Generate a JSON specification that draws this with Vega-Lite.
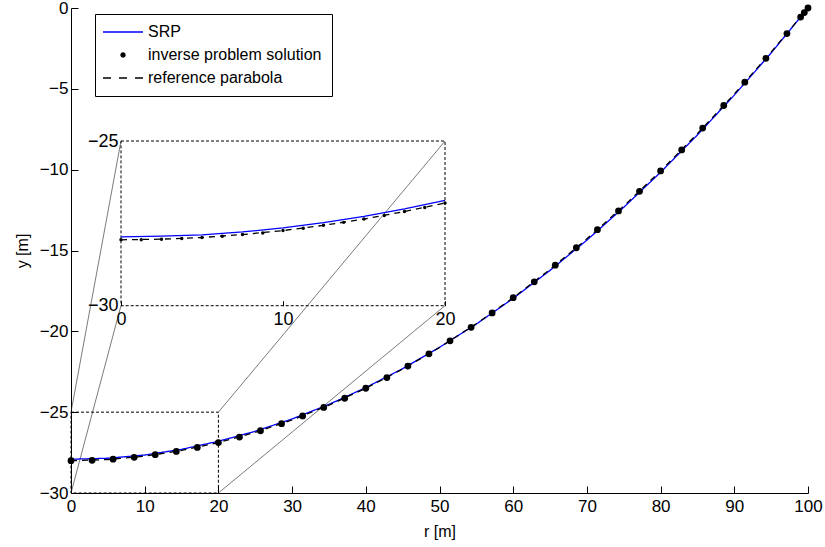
{
  "$schema": "https://vega.github.io/schema/vega-lite/v6.json",
  "autosize": {"type": "none"},
  "padding": {"left": 71, "top": 8, "right": 17, "bottom": 54},
  "width": 737,
  "height": 485,
  "background": "white",
  "config": {
    "font": "Liberation Sans",
    "view": {"stroke": null},
    "axis": {
      "labelFont": "Liberation Sans",
      "labelFontSize": 17,
      "labelColor": "black",
      "titleFont": "Liberation Sans",
      "titleFontSize": 16,
      "titleFontWeight": "normal",
      "titleColor": "black",
      "domainColor": "black",
      "tickColor": "black",
      "grid": false,
      "labelFlush": false,
      "labelOverlap": false,
      "format": "d"
    }
  },
  "datasets": {
    "lines": [
      {"series": "SRP", "r": 0, "y": -27.91}, {"series": "SRP", "r": 5, "y": -27.85}, {"series": "SRP", "r": 10, "y": -27.65},
      {"series": "SRP", "r": 15, "y": -27.30}, {"series": "SRP", "r": 20, "y": -26.80}, {"series": "SRP", "r": 25, "y": -26.18},
      {"series": "SRP", "r": 30, "y": -25.42}, {"series": "SRP", "r": 35, "y": -24.52}, {"series": "SRP", "r": 40, "y": -23.48},
      {"series": "SRP", "r": 45, "y": -22.31}, {"series": "SRP", "r": 50, "y": -20.99}, {"series": "SRP", "r": 55, "y": -19.55},
      {"series": "SRP", "r": 60, "y": -17.96}, {"series": "SRP", "r": 65, "y": -16.23}, {"series": "SRP", "r": 70, "y": -14.36},
      {"series": "SRP", "r": 75, "y": -12.33}, {"series": "SRP", "r": 80, "y": -10.16}, {"series": "SRP", "r": 85, "y": -7.85},
      {"series": "SRP", "r": 90, "y": -5.39}, {"series": "SRP", "r": 95, "y": -2.78}, {"series": "SRP", "r": 100, "y": 0},
      {"series": "reference parabola", "r": 0, "y": -28.00}, {"series": "reference parabola", "r": 5, "y": -27.93},
      {"series": "reference parabola", "r": 10, "y": -27.72}, {"series": "reference parabola", "r": 15, "y": -27.37},
      {"series": "reference parabola", "r": 20, "y": -26.88}, {"series": "reference parabola", "r": 25, "y": -26.25},
      {"series": "reference parabola", "r": 30, "y": -25.48}, {"series": "reference parabola", "r": 35, "y": -24.57},
      {"series": "reference parabola", "r": 40, "y": -23.52}, {"series": "reference parabola", "r": 45, "y": -22.33},
      {"series": "reference parabola", "r": 50, "y": -21.00}, {"series": "reference parabola", "r": 55, "y": -19.53},
      {"series": "reference parabola", "r": 60, "y": -17.92}, {"series": "reference parabola", "r": 65, "y": -16.17},
      {"series": "reference parabola", "r": 70, "y": -14.28}, {"series": "reference parabola", "r": 75, "y": -12.25},
      {"series": "reference parabola", "r": 80, "y": -10.08}, {"series": "reference parabola", "r": 85, "y": -7.77},
      {"series": "reference parabola", "r": 90, "y": -5.32}, {"series": "reference parabola", "r": 95, "y": -2.73},
      {"series": "reference parabola", "r": 100, "y": 0}
    ],
    "dots": [
      {"series": "inverse problem solution", "r": 0, "y": -28.00},
      {"series": "inverse problem solution", "r": 2.86, "y": -27.98},
      {"series": "inverse problem solution", "r": 5.71, "y": -27.91},
      {"series": "inverse problem solution", "r": 8.57, "y": -27.79},
      {"series": "inverse problem solution", "r": 11.43, "y": -27.63},
      {"series": "inverse problem solution", "r": 14.29, "y": -27.43},
      {"series": "inverse problem solution", "r": 17.14, "y": -27.18},
      {"series": "inverse problem solution", "r": 20.00, "y": -26.88},
      {"series": "inverse problem solution", "r": 22.86, "y": -26.54},
      {"series": "inverse problem solution", "r": 25.71, "y": -26.15},
      {"series": "inverse problem solution", "r": 28.57, "y": -25.71},
      {"series": "inverse problem solution", "r": 31.43, "y": -25.23},
      {"series": "inverse problem solution", "r": 34.29, "y": -24.71},
      {"series": "inverse problem solution", "r": 37.14, "y": -24.14},
      {"series": "inverse problem solution", "r": 40.00, "y": -23.52},
      {"series": "inverse problem solution", "r": 42.86, "y": -22.86},
      {"series": "inverse problem solution", "r": 45.71, "y": -22.15},
      {"series": "inverse problem solution", "r": 48.57, "y": -21.39},
      {"series": "inverse problem solution", "r": 51.43, "y": -20.59},
      {"series": "inverse problem solution", "r": 54.29, "y": -19.75},
      {"series": "inverse problem solution", "r": 57.14, "y": -18.86},
      {"series": "inverse problem solution", "r": 60.00, "y": -17.92},
      {"series": "inverse problem solution", "r": 62.86, "y": -16.94},
      {"series": "inverse problem solution", "r": 65.71, "y": -15.91},
      {"series": "inverse problem solution", "r": 68.57, "y": -14.83},
      {"series": "inverse problem solution", "r": 71.43, "y": -13.71},
      {"series": "inverse problem solution", "r": 74.29, "y": -12.55},
      {"series": "inverse problem solution", "r": 77.14, "y": -11.34},
      {"series": "inverse problem solution", "r": 80.00, "y": -10.08},
      {"series": "inverse problem solution", "r": 82.86, "y": -8.78},
      {"series": "inverse problem solution", "r": 85.71, "y": -7.43},
      {"series": "inverse problem solution", "r": 88.57, "y": -6.03},
      {"series": "inverse problem solution", "r": 91.43, "y": -4.59},
      {"series": "inverse problem solution", "r": 94.29, "y": -3.11},
      {"series": "inverse problem solution", "r": 97.14, "y": -1.58},
      {"series": "inverse problem solution", "r": 99.0, "y": -0.56},
      {"series": "inverse problem solution", "r": 99.5, "y": -0.28},
      {"series": "inverse problem solution", "r": 100, "y": 0}
    ],
    "guides": [
      {"r": 0, "y": -25, "r2": 6.78, "y2": -8.23},
      {"r": 0, "y": -30, "r2": 6.78, "y2": -18.41},
      {"r": 20, "y": -25, "r2": 50.75, "y2": -8.23},
      {"r": 20, "y": -30, "r2": 50.75, "y2": -18.41}
    ],
    "box": [
      {"r": 0, "r2": 20, "y": -30, "y2": -25}
    ],
    "insetLines": [
      {"series": "SRP", "r": 0, "y": -27.91}, {"series": "SRP", "r": 2.5, "y": -27.89}, {"series": "SRP", "r": 5, "y": -27.85},
      {"series": "SRP", "r": 7.5, "y": -27.76}, {"series": "SRP", "r": 10, "y": -27.64}, {"series": "SRP", "r": 12.5, "y": -27.48},
      {"series": "SRP", "r": 15, "y": -27.29}, {"series": "SRP", "r": 17.5, "y": -27.06}, {"series": "SRP", "r": 20, "y": -26.80},
      {"series": "reference parabola", "r": 0, "y": -28.00}, {"series": "reference parabola", "r": 2.5, "y": -27.98},
      {"series": "reference parabola", "r": 5, "y": -27.93}, {"series": "reference parabola", "r": 7.5, "y": -27.84},
      {"series": "reference parabola", "r": 10, "y": -27.72}, {"series": "reference parabola", "r": 12.5, "y": -27.56},
      {"series": "reference parabola", "r": 15, "y": -27.37}, {"series": "reference parabola", "r": 17.5, "y": -27.14},
      {"series": "reference parabola", "r": 20, "y": -26.88}
    ],
    "insetDots": [
      {"r": 0, "y": -28.00}, {"r": 1.25, "y": -28.00}, {"r": 2.5, "y": -27.98}, {"r": 3.75, "y": -27.96},
      {"r": 5, "y": -27.93}, {"r": 6.25, "y": -27.89}, {"r": 7.5, "y": -27.84}, {"r": 8.75, "y": -27.79},
      {"r": 10, "y": -27.72}, {"r": 11.25, "y": -27.65}, {"r": 12.5, "y": -27.56}, {"r": 13.75, "y": -27.47},
      {"r": 15, "y": -27.37}, {"r": 16.25, "y": -27.26}, {"r": 17.5, "y": -27.14}, {"r": 18.75, "y": -27.02},
      {"r": 20, "y": -26.88}
    ]
  },
  "layer": [
    {
      "layer": [
        {
          "data": {"name": "guides"},
          "mark": {"type": "rule", "stroke": "#222222", "strokeWidth": 0.6},
          "encoding": {
            "x": {"field": "r", "type": "quantitative", "scale": {"domain": [0, 100], "nice": false},
              "axis": {"title": "r [m]", "values": [0, 10, 20, 30, 40, 50, 60, 70, 80, 90, 100], "tickSize": -7, "labelPadding": 12, "titlePadding": 9}},
            "y": {"field": "y", "type": "quantitative", "scale": {"domain": [-30, 0], "nice": false, "zero": false},
              "axis": {"title": "y [m]", "values": [-30, -25, -20, -15, -10, -5, 0], "tickSize": -7, "labelPadding": 10, "titlePadding": 9}},
            "x2": {"field": "r2"},
            "y2": {"field": "y2"}
          }
        },
        {
          "data": {"name": "box"},
          "mark": {"type": "rect", "fill": null, "filled": false, "stroke": "black", "strokeWidth": 1, "strokeDash": [3, 2]},
          "encoding": {
            "x": {"field": "r", "type": "quantitative"},
            "x2": {"field": "r2"},
            "y": {"field": "y", "type": "quantitative"},
            "y2": {"field": "y2"}
          }
        },
        {
          "data": {"name": "lines"},
          "mark": {"type": "line", "strokeWidth": 1.3},
          "encoding": {
            "x": {"field": "r", "type": "quantitative"},
            "y": {"field": "y", "type": "quantitative"},
            "color": {"field": "series", "type": "nominal",
              "scale": {"domain": ["SRP", "inverse problem solution", "reference parabola"], "range": ["#0000ff", "#000000", "#000000"]},
              "legend": {
                "orient": "none", "legendX": 24, "legendY": 6, "title": null,
                "strokeColor": "black", "fillColor": "white", "padding": 10,
                "labelFont": "Liberation Sans", "labelFontSize": 16, "labelColor": "black", "labelLimit": 400,
                "symbolSize": 100, "symbolStrokeWidth": 1.3, "symbolOffset": 10,
                "rowPadding": 7, "labelOffset": 17,
                "encode": {
                  "symbols": {
                    "update": {
                      "shape": {"signal": "datum.value === 'inverse problem solution' ? 'M-0.4,0A0.4,0.4,0,1,0,0.4,0A0.4,0.4,0,1,0,-0.4,0Z' : 'M-4,0L4,0'"},
                      "size": {"value": 100},
                      "strokeDash": {"signal": "datum.value === 'reference parabola' ? [8, 8] : [1, 0]"},
                      "fill": {"signal": "datum.value === 'inverse problem solution' ? 'black' : 'transparent'"},
                      "stroke": {"signal": "datum.value === 'SRP' ? '#0000ff' : 'black'"},
                      "strokeWidth": {"value": 1.3},
                      "opacity": {"value": 1}
                    }
                  }
                }
              }
            },
            "strokeDash": {"field": "series", "type": "nominal",
              "scale": {"domain": ["SRP", "reference parabola"], "range": [[1, 0], [6, 5]]}, "legend": null},
            "order": {"field": "r", "type": "quantitative"}
          }
        },
        {
          "data": {"name": "dots"},
          "mark": {"type": "point", "filled": true, "size": 46, "opacity": 1, "shape": "circle"},
          "encoding": {
            "x": {"field": "r", "type": "quantitative"},
            "y": {"field": "y", "type": "quantitative"},
            "color": {"field": "series", "type": "nominal",
              "scale": {"domain": ["SRP", "inverse problem solution", "reference parabola"], "range": ["#0000ff", "#000000", "#000000"]}}
          }
        }
      ]
    },
    {
      "layer": [
        {
          "data": {"name": "box"},
          "mark": {"type": "rect", "fill": null, "filled": false, "stroke": "black", "strokeWidth": 1, "strokeDash": [3, 2]},
          "encoding": {
            "x": {"field": "r", "type": "quantitative", "scale": {"domain": [0, 20], "range": [50, 374], "nice": false},
              "axis": {"orient": "bottom", "offset": -187.3, "title": null, "domain": false, "values": [0, 10, 20], "tickSize": -5, "labelPadding": 10, "labelFontSize": 18}},
            "x2": {"field": "r2"},
            "y": {"field": "y", "type": "quantitative", "scale": {"domain": [-30, -25], "range": [297.7, 133], "nice": false, "zero": false},
              "axis": {"orient": "left", "offset": -50, "title": null, "domain": false, "values": [-30, -25], "ticks": false, "labelPadding": 3, "labelFontSize": 18}},
            "y2": {"field": "y2"}
          }
        },
        {
          "data": {"name": "insetLines"},
          "transform": [{"filter": "datum.series === 'SRP'"}],
          "mark": {"type": "line", "stroke": "#0000ff", "strokeWidth": 1.3},
          "encoding": {
            "x": {"field": "r", "type": "quantitative"},
            "y": {"field": "y", "type": "quantitative"}
          }
        },
        {
          "data": {"name": "insetLines"},
          "transform": [{"filter": "datum.series === 'reference parabola'"}],
          "mark": {"type": "line", "stroke": "black", "strokeWidth": 1.3, "strokeDash": [6, 5]},
          "encoding": {
            "x": {"field": "r", "type": "quantitative"},
            "y": {"field": "y", "type": "quantitative"}
          }
        },
        {
          "data": {"name": "insetDots"},
          "mark": {"type": "point", "filled": true, "size": 12, "opacity": 1, "color": "black", "shape": "circle"},
          "encoding": {
            "x": {"field": "r", "type": "quantitative"},
            "y": {"field": "y", "type": "quantitative"}
          }
        }
      ]
    }
  ],
  "resolve": {"scale": {"x": "independent", "y": "independent"}}
}
